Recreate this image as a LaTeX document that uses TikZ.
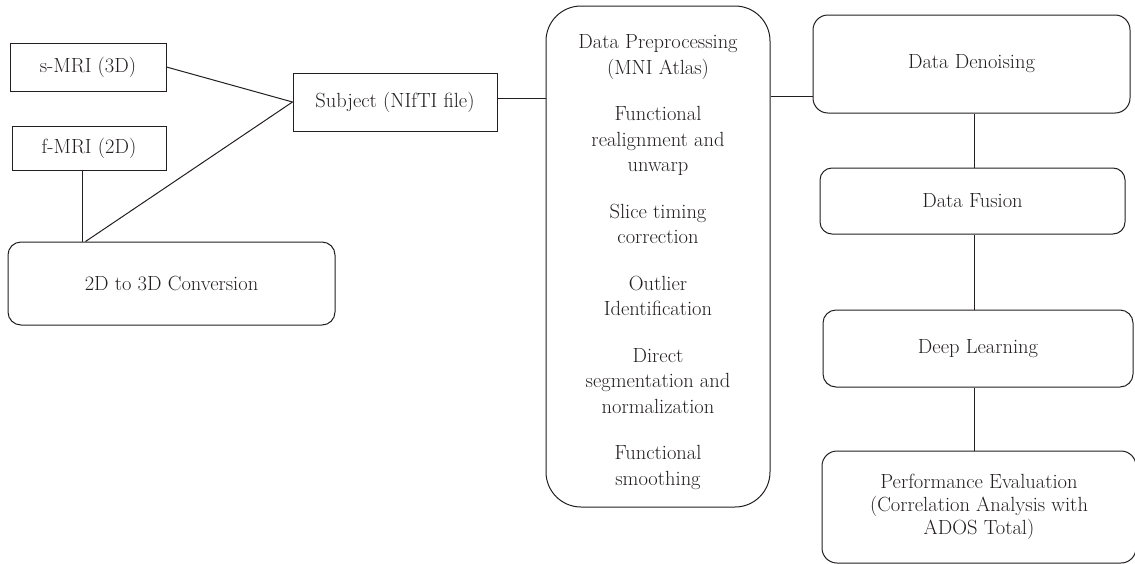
\documentclass[tikz,border=0pt]{standalone}
\usetikzlibrary{calc}
\definecolor{ink}{HTML}{231F20}
\begin{document}
\begin{tikzpicture}[x=1pt,y=-1pt,
  every node/.style={text=ink, font=\fontsize{20.5}{25.5}\selectfont, align=center},
  plainbox/.style={draw=ink, line width=1pt, inner sep=0pt},
  roundbox/.style={draw=ink, line width=1pt, rounded corners=13pt, inner sep=0pt},
  link/.style={draw=ink, line width=1pt}]
\useasboundingbox (0,0) rectangle (1135,563);
\clip (0,0) rectangle (1135,563);

% input scans and conversion
\node[plainbox, minimum width=156pt, minimum height=48pt] (smri) at (88,67) {s-MRI (3D)};
\node[plainbox, minimum width=154pt, minimum height=44pt] (fmri) at (89,148) {f-MRI (2D)};
\node[plainbox, minimum width=204pt, minimum height=58pt] (subj) at (395,102) {Subject (NIfTI file)};
\node[roundbox, minimum width=327pt, minimum height=83pt] (conv) at (171.5,283.5) {2D to 3D Conversion};

% preprocessing steps: frame and its list of steps
\node[roundbox, rounded corners=35pt, minimum width=224pt, minimum height=501pt] (pre) at (658,256.5) {};
\node (pretext) at (658,262)
  {Data Preprocessing\\(MNI Atlas)\\[21pt]
   Functional\\realignment and\\unwarp\\[21pt]
   Slice timing\\correction\\[21pt]
   Outlier\\Identification\\[21pt]
   Direct\\segmentation and\\normalization\\[21pt]
   Functional\\smoothing};

% analysis pipeline
\node[roundbox, rounded corners=15pt, minimum width=317pt, minimum height=98pt] (dd) at (971.5,64) {Data Denoising};
\node[roundbox, rounded corners=12pt, minimum width=305pt, minimum height=66pt] (df) at (972.5,201) {Data Fusion};
\node[roundbox, minimum width=310pt, minimum height=77pt] (dl) at (978,348.5) {Deep Learning};
\node[roundbox, rounded corners=15pt, minimum width=314pt, minimum height=112pt,
      font=\fontsize{20.5}{23.3}\selectfont] (pe) at (979,507)
  {Performance Evaluation\\(Correlation Analysis with\\ADOS Total)};

\coordinate (axis) at (974,0);

% connectors
\draw[link] (smri.east) -- (subj.west);
\draw[link] ([xshift=-7pt]fmri.south) -- ([xshift=-7pt]fmri.south |- conv.north);
\draw[link] ([xshift=-86pt]conv.north) -- (subj.west);
\draw[link] ([yshift=4pt]subj.east) -- ([yshift=4pt]subj.east -| pre.west);
\draw[link] ([yshift=-32pt]dd.west -| pre.east) -- ([yshift=-32pt]dd.west);
\draw[link] (dd.south -| axis) -- (df.north -| axis);
\draw[link] (df.south -| axis) -- (dl.north -| axis);
\draw[link] (dl.south -| axis) -- (pe.north -| axis);
\end{tikzpicture}
\end{document}
